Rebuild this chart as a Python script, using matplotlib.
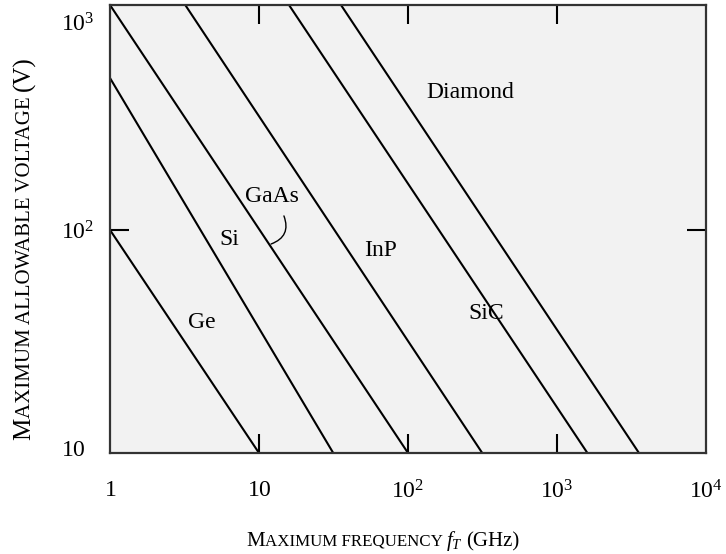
import matplotlib
matplotlib.use("Agg")
import matplotlib.pyplot as plt
import matplotlib.transforms as mtransforms

plt.rcParams["font.family"] = "Liberation Serif"
plt.rcParams["mathtext.fontset"] = "custom"
plt.rcParams["mathtext.rm"] = "Liberation Serif"
plt.rcParams["mathtext.it"] = "Liberation Serif:italic"

# line end points: (frequency GHz, voltage V)
materials = ["Ge", "Si", "GaAs", "InP", "SiC", "Diamond"]
start_f = [1, 1, 1, 3.2, 15.9, 35.5]
start_v = [100, 480, 1020, 1020, 1020, 1020]
end_f = [10, 31.5, 100, 315, 1600, 3550]
end_v = [10, 10, 10, 10, 10, 10]

# where the material names sit
label_f = [4.14, 6.29, 12.2, 65.9, 334, 261]
label_v = [38.5, 91, 141, 81.3, 42.3, 414]

x_ticks = [1, 10, 100, 1000, 10000]
x_ticklabels = ["$1$", "$10$", "$10^2$", "$10^3$", "$10^4$"]
y_ticks = [10, 100, 1000]
y_ticklabels = ["$10$", "$10^2$", "$10^3$"]

fig = plt.figure(figsize=(7.26, 5.54), dpi=100)
ax = fig.add_axes([110 / 726, 1 - 453 / 554, 596 / 726, 448 / 554])
ax.set_facecolor("#f2f2f2")

for i in range(len(materials)):
    ax.plot([start_f[i], end_f[i]], [start_v[i], end_v[i]], color="black", lw=1.5,
            solid_capstyle="butt")
    ax.text(label_f[i], label_v[i], materials[i], fontsize=17, ha="center", va="center")

# curved pointer from the GaAs label to its line
ax.annotate("", xy=(12.05, 86.5), xytext=(14.7, 115.6),
            arrowprops=dict(arrowstyle="-", connectionstyle="arc3,rad=-0.5",
                            lw=1.0, color="black", shrinkA=0, shrinkB=0))

ax.set_xscale("log")
ax.set_yscale("log")
ax.set_xlim(1, 10000)
ax.set_ylim(10, 1020)
ax.minorticks_off()
ax.set_xticks(x_ticks)
ax.set_xticklabels(x_ticklabels, fontsize=17)
ax.set_yticks(y_ticks)
ax.set_yticklabels(y_ticklabels, fontsize=17)
ax.tick_params(direction="in", length=13.5, width=1.5, top=True, right=True)
ax.tick_params(axis="x", pad=19.5)
ax.tick_params(axis="y", pad=35)
for lab in ax.get_yticklabels():
    lab.set_horizontalalignment("left")

# no tick marks on the frame corners / top edge
for t in ax.xaxis.get_major_ticks():
    if t.get_loc() in (1, 10000):
        t.tick1line.set_visible(False)
        t.tick2line.set_visible(False)
for t in ax.yaxis.get_major_ticks():
    if t.get_loc() in (10, 1000):
        t.tick1line.set_visible(False)
        t.tick2line.set_visible(False)

# nudge the end labels like in the original
ylabs = ax.get_yticklabels()
ylabs[0].set_transform(ylabs[0].get_transform() + mtransforms.ScaledTranslation(0, 5 / 100, fig.dpi_scale_trans))
ylabs[2].set_transform(ylabs[2].get_transform() + mtransforms.ScaledTranslation(0, -15 / 100, fig.dpi_scale_trans))

for sp in ax.spines.values():
    sp.set_color("#333333")
    sp.set_linewidth(1.6)


def smallcaps(x, y, pieces, rotation=0):
    # pieces = (text, size, gap after in px); drawn one after another in pixel coords
    renderer = fig.canvas.get_renderer()
    for s, size, gap in pieces:
        t = fig.text(x, y, s, fontsize=size, rotation=rotation, rotation_mode="anchor",
                     ha="left", va="baseline", transform=mtransforms.IdentityTransform())
        bb = t.get_window_extent(renderer)
        if rotation == 0:
            x += bb.width + gap
        else:
            y += bb.height + gap


smallcaps(246, 554 - 546, [("M", 15, 0), ("AXIMUM FREQUENCY", 12.2, 4),
                           ("$f_T$", 15, 3), ("(GHz)", 15, 0)])
smallcaps(30, 554 - 440, [("M", 18, 0), ("AXIMUM ALLOWABLE VOLTAGE", 15, 5),
                          ("(V)", 18, 0)], rotation=90)

fig.savefig("out.png", dpi=100)
